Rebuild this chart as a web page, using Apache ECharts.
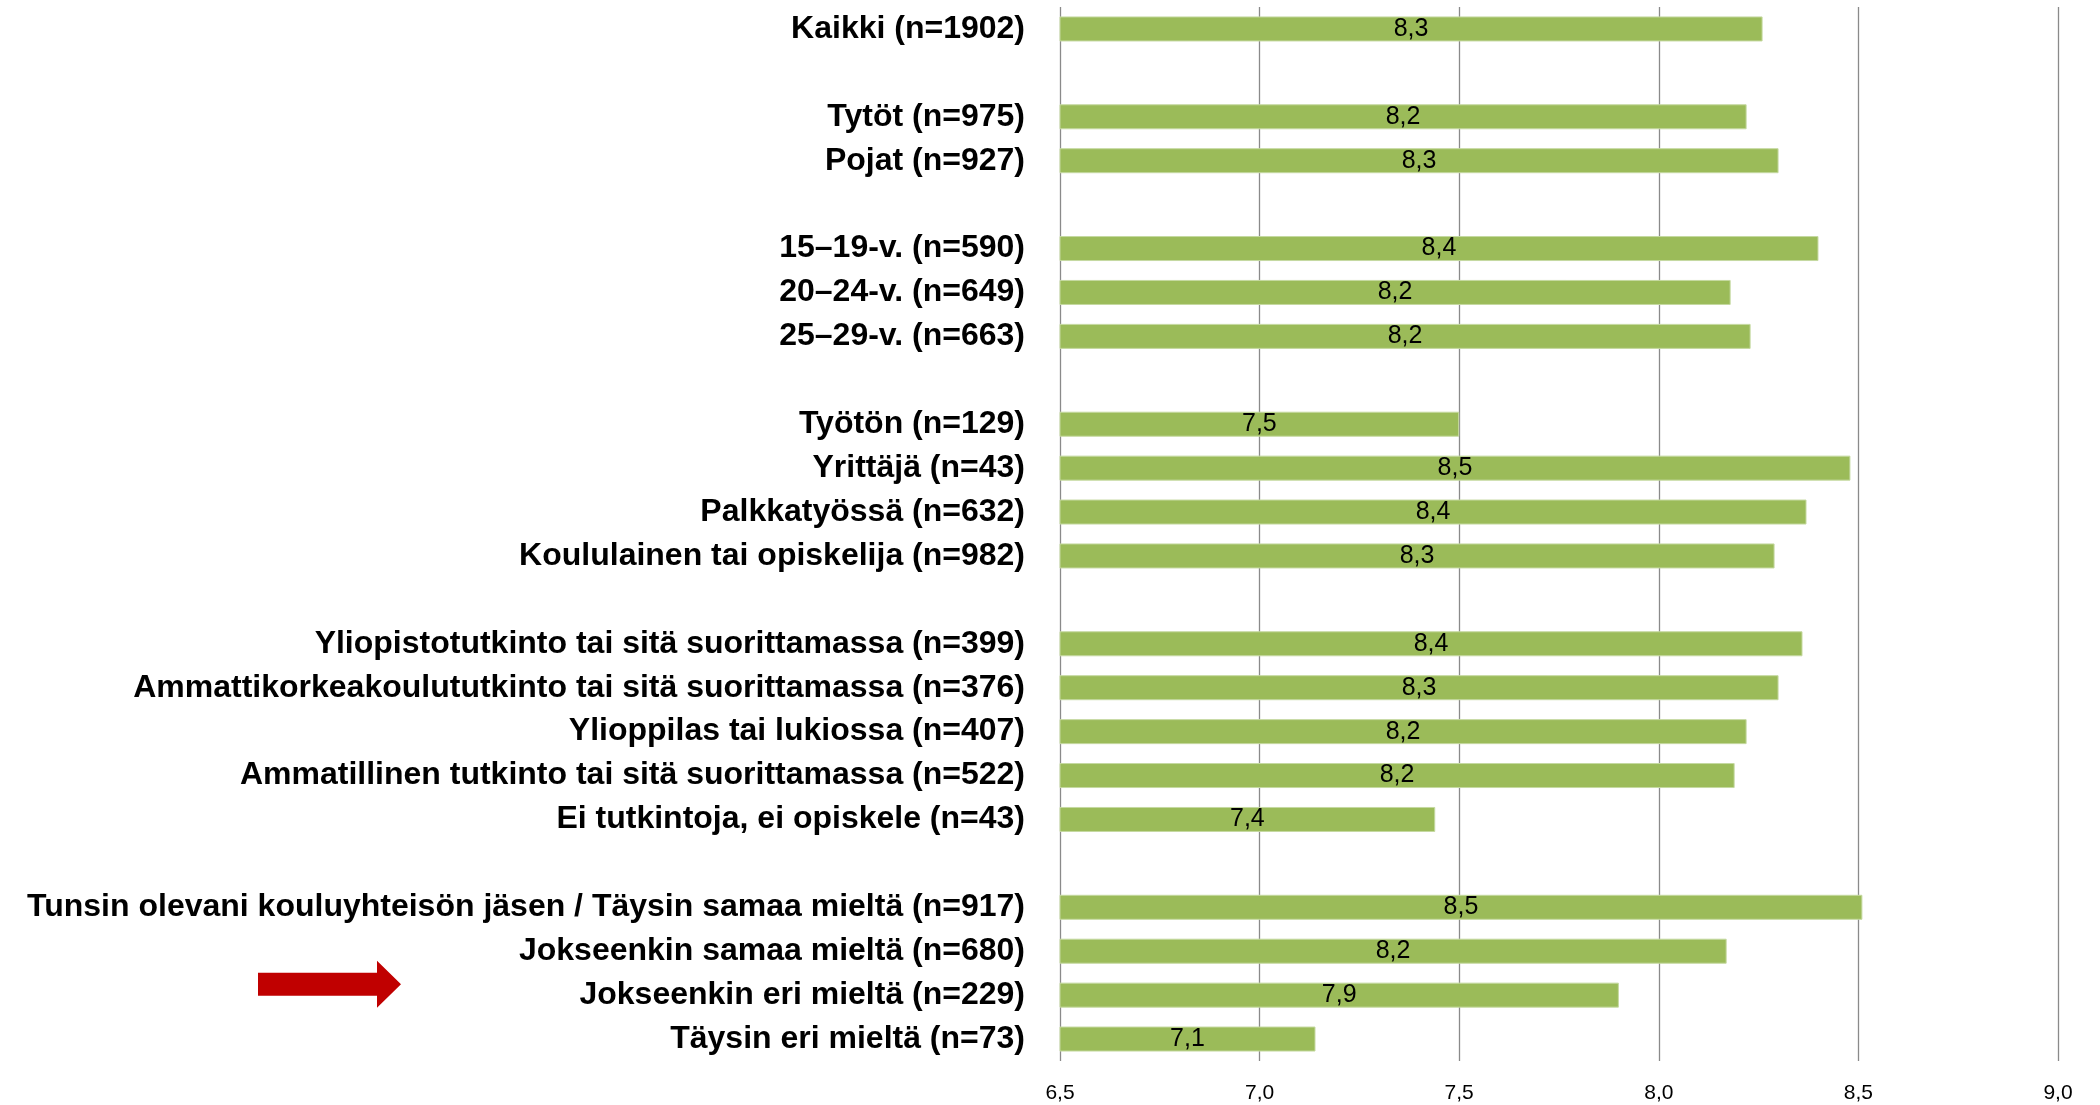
<!DOCTYPE html>
<html>
<head>
<meta charset="utf-8">
<script src="https://cdn.jsdelivr.net/npm/echarts@6/dist/echarts.min.js"></script>
<style>
html,body{margin:0;padding:0;background:#fff;}
#chart{width:2100px;height:1105px;}
</style>
</head>
<body>
<div id="chart"></div>
<script>
const categories = [
  'Kaikki (n=1902)', '',
  'Tytöt (n=975)', 'Pojat (n=927)', '',
  '15–19-v. (n=590)', '20–24-v. (n=649)', '25–29-v. (n=663)', '',
  'Työtön (n=129)', 'Yrittäjä (n=43)', 'Palkkatyössä (n=632)', 'Koululainen tai opiskelija (n=982)', '',
  'Yliopistotutkinto tai sitä suorittamassa (n=399)', 'Ammattikorkeakoulututkinto tai sitä suorittamassa (n=376)',
  'Ylioppilas tai lukiossa (n=407)', 'Ammatillinen tutkinto tai sitä suorittamassa (n=522)', 'Ei tutkintoja, ei opiskele (n=43)', '',
  'Tunsin olevani kouluyhteisön jäsen / Täysin samaa mieltä (n=917)', 'Jokseenkin samaa mieltä (n=680)',
  'Jokseenkin eri mieltä (n=229)', 'Täysin eri mieltä (n=73)'
];
const values = [
  8.26, null,
  8.22, 8.30, null,
  8.40, 8.18, 8.23, null,
  7.50, 8.48, 8.37, 8.29, null,
  8.36, 8.30, 8.22, 8.19, 7.44, null,
  8.51, 8.17, 7.90, 7.14
];
const axisMin = 6.5, axisMax = 9.0, axisStep = 0.5;
const arrowCategory = 'Jokseenkin eri mieltä (n=229)';

const fmt = v => v.toFixed(1).replace('.', ',');

const chart = echarts.init(document.getElementById('chart'));
chart.setOption({
  animation: false,
  backgroundColor: '#ffffff',
  grid: { left: 1060, right: 42, top: 7, bottom: 44, containLabel: false },
  xAxis: {
    type: 'value', min: axisMin, max: axisMax, interval: axisStep,
    axisLine: { show: false }, axisTick: { show: false },
    splitLine: { show: true, lineStyle: { color: '#8a8a8a', width: 1.3 } },
    axisLabel: { formatter: fmt, color: '#000', fontSize: 21, fontFamily: 'Liberation Sans', margin: 22 }
  },
  yAxis: {
    type: 'category', data: categories, inverse: true,
    axisLine: { show: false }, axisTick: { show: false },
    axisLabel: { color: '#000', fontSize: 32, fontWeight: 'bold', fontFamily: 'Liberation Sans', margin: 35, interval: 0 }
  },
  series: [{
    type: 'bar', data: values, barWidth: 25,
    itemStyle: { color: '#9BBB59', borderColor: '#c5d9a0', borderWidth: 1 },
    label: { show: true, position: 'inside', color: '#000', fontSize: 25, fontFamily: 'Liberation Sans',
      formatter: p => (p.value == null ? '' : fmt(p.value)) }
  }]
});

const yArrow = chart.convertToPixel({ yAxisIndex: 0 }, arrowCategory) - 11;
chart.setOption({
  graphic: [{
    type: 'polygon', silent: true,
    shape: { points: [[258, yArrow - 11.5], [377, yArrow - 11.5], [377, yArrow - 23.5], [401, yArrow], [377, yArrow + 23.5], [377, yArrow + 11.5], [258, yArrow + 11.5]] },
    style: { fill: '#C00000' }
  }]
});
</script>
</body>
</html>
